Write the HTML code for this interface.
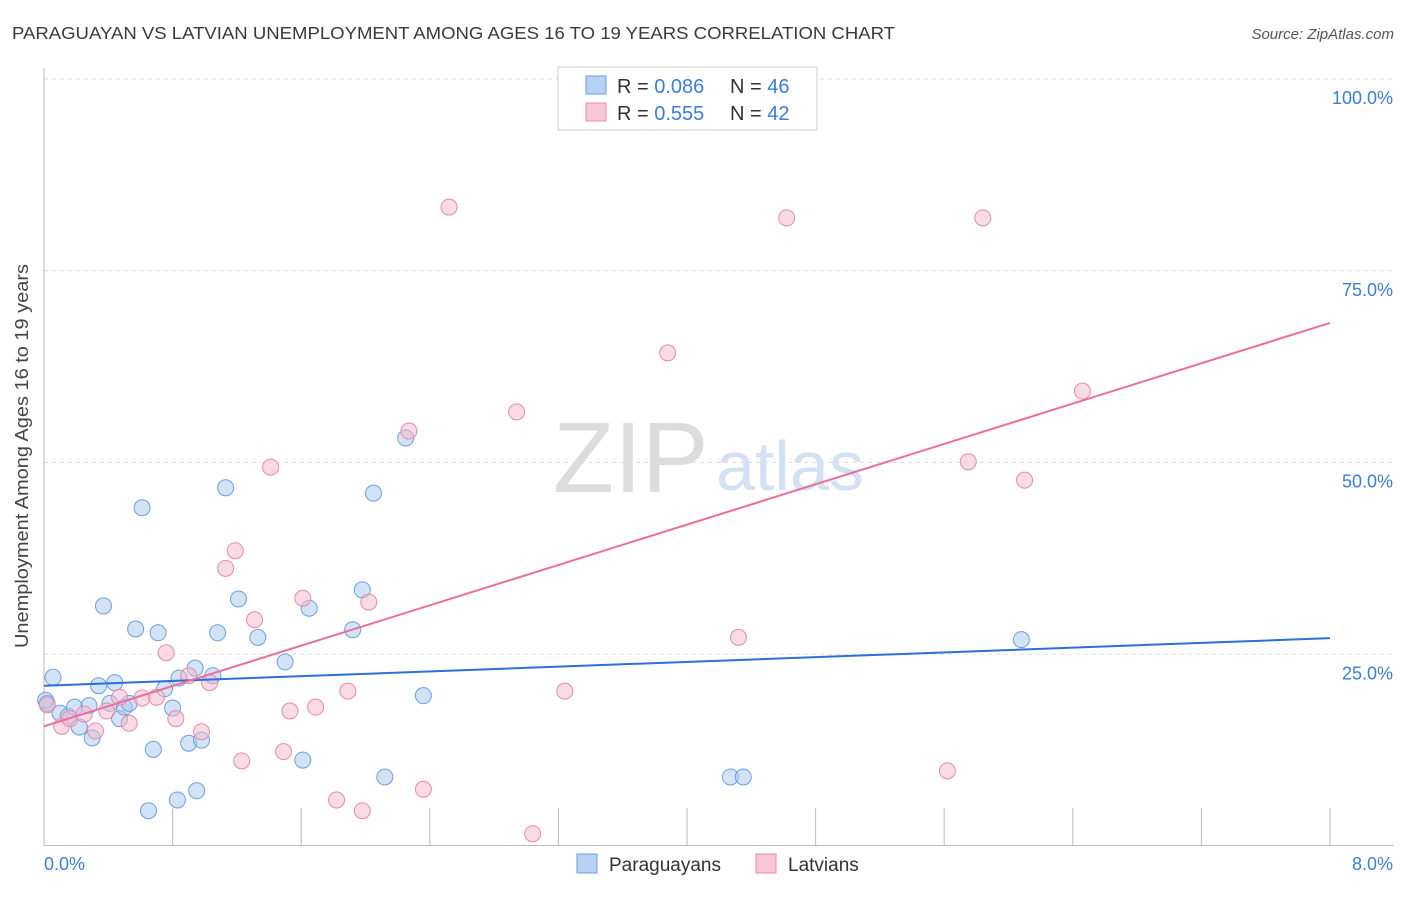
<!DOCTYPE html>
<html><head><meta charset="utf-8"><style>
body{margin:0;background:#fff;font-family:"Liberation Sans",sans-serif;}
svg text{font-family:"Liberation Sans",sans-serif;}
</style></head><body>
<svg width="1406" height="892" viewBox="0 0 1406 892">
<text x="12" y="39" font-size="17.5" fill="#3a3a3a" textLength="883" lengthAdjust="spacingAndGlyphs">PARAGUAYAN VS LATVIAN UNEMPLOYMENT AMONG AGES 16 TO 19 YEARS CORRELATION CHART</text>
<text x="1394" y="39" font-size="15" font-style="italic" fill="#555" text-anchor="end">Source: ZipAtlas.com</text>
<g>
<text x="553" y="492" font-size="100" font-family="Liberation Serif,serif" fill="#dcdcdc">ZIP</text>
<text x="716" y="490" font-size="70" fill="#d3e1f3">atlas</text>
</g>
<g id="grid"></g>
<g id="axes"></g>
<g id="marks"></g>
<text x="28" y="456" font-size="18" fill="#444" text-anchor="middle" textLength="384" lengthAdjust="spacingAndGlyphs" transform="rotate(-90 28 456)">Unemployment Among Ages 16 to 19 years</text>
<g>
<rect x="558" y="67" width="259" height="63" fill="#fff" stroke="#ccc"/>
<rect x="586" y="76" width="20" height="18" fill="#b7d1f3" stroke="#6c9fe0"/>
<rect x="586" y="103" width="20" height="18" fill="#f8c6d5" stroke="#e88aa8"/>
<text x="617" y="93" font-size="20" fill="#333">R = <tspan fill="#3b7dd8">0.086</tspan></text>
<text x="730" y="93" font-size="20" fill="#333">N = <tspan fill="#3b7dd8">46</tspan></text>
<text x="617" y="120" font-size="20" fill="#333">R = <tspan fill="#3b7dd8">0.555</tspan></text>
<text x="730" y="120" font-size="20" fill="#333">N = <tspan fill="#3b7dd8">42</tspan></text>
</g>
<g>
<rect x="577" y="854" width="20" height="19" fill="#b7d1f3" stroke="#6c9fe0"/>
<text x="609" y="871" font-size="19" fill="#333">Paraguayans</text>
<rect x="756" y="854" width="20" height="19" fill="#f8c6d5" stroke="#e88aa8"/>
<text x="788" y="871" font-size="19" fill="#333">Latvians</text>
</g>
</svg>
<script>
const xTicks=[0,0.8,1.6,2.4,3.2,4.0,4.8,5.6,6.4,7.2,8.0];
const yTicks=[25,50,75,100];
const yTickLabels=["25.0%","50.0%","75.0%","100.0%"];
const xEndLabels=["0.0%","8.0%"];
const parX=[0.056,0.019,0.10,0.15,0.19,0.22,0.28,0.30,0.34,0.37,0.41,0.44,0.47,0.50,0.53,0.57,0.61,0.68,0.71,0.75,0.80,0.83,0.84,0.90,0.94,0.95,0.98,1.05,1.08,1.13,1.21,1.33,1.50,1.61,1.65,1.92,1.98,2.05,2.12,2.25,2.36,4.27,4.35,6.08,0.65,0.01];
const parY=[22.0,18.6,17.3,16.9,18.1,15.5,18.3,14.1,20.9,31.3,18.6,21.3,16.6,18.1,18.6,28.3,44.1,12.6,27.8,20.5,18.0,6.0,21.9,13.4,23.2,7.2,13.8,22.2,27.8,46.7,32.2,27.2,24.0,11.2,31.0,28.2,33.4,46.0,9.0,53.2,19.6,9.0,9.0,26.9,4.6,19.0];
const latX=[0.02,0.11,0.16,0.25,0.32,0.39,0.47,0.53,0.61,0.70,0.76,0.82,0.90,0.98,1.03,1.13,1.19,1.23,1.31,1.41,1.49,1.53,1.61,1.69,1.82,1.89,1.98,2.02,2.27,2.36,2.52,2.94,3.04,3.24,3.88,4.32,4.62,5.62,5.75,5.84,6.10,6.46];
const latY=[18.4,15.6,16.6,17.2,15.0,17.6,19.4,16.0,19.3,19.4,25.2,16.6,22.2,14.9,21.3,36.2,38.5,11.1,29.5,49.4,12.3,17.6,32.3,18.1,6.0,20.2,4.6,31.8,54.1,7.4,83.3,56.6,1.6,20.2,64.3,27.2,81.9,9.8,50.1,81.9,47.7,59.3];
const parTrend=[20.9,27.1];
const latTrend=[15.6,68.2];
const NS="http://www.w3.org/2000/svg";
const X=v=>44+v/8*1286, Y=v=>846-v/100*767;
function mk(p,t,a){const e=document.createElementNS(NS,t);for(const k in a)e.setAttribute(k,a[k]);p.appendChild(e);return e;}
const grid=document.getElementById('grid'),axes=document.getElementById('axes'),marks=document.getElementById('marks');
yTicks.forEach((t,i)=>{
 const l=mk(grid,'line',{x1:44,x2:1394,y1:Y(t),y2:Y(t),stroke:'#ddd','stroke-dasharray':'4,4'});
 
 
 const tx=mk(axes,'text',{x:1393,y:Y(t)+25,'font-size':18,fill:'#3b7dd8','text-anchor':'end'});
 tx.textContent=yTickLabels[i];
 
 
});
const la=mk(axes,'line',{x1:44,x2:44,y1:68,y2:846,stroke:'#bbb'});


const ba=mk(axes,'line',{x1:44,x2:1394,y1:845.5,y2:845.5,stroke:'#bbb'});


xTicks.forEach(t=>{
 const l=mk(axes,'line',{x1:X(t),x2:X(t),y1:808,y2:846,stroke:'#bbb'});
 
 
});
[[0,'start',44],[8,'end',1393]].forEach((d,i)=>{
 const tx=mk(axes,'text',{x:d[2],y:870,'font-size':18,fill:'#3b7dd8','text-anchor':d[1]});
 tx.textContent=xEndLabels[i];
 
 
});
function pts(xs,ys,fill,stroke,name){xs.forEach((x,i)=>{
 const c=mk(marks,'circle',{cx:X(x),cy:Y(ys[i]),r:8,fill:fill,'fill-opacity':0.5,stroke:stroke,'stroke-width':1});
 
 
});}
pts(parX,parY,'#a8c8f0','#6c9fe0','paraguayan-point');
pts(latX,latY,'#f5b8cb','#e88aa8','latvian-point');
const t1=mk(marks,'line',{x1:X(0),x2:X(8),y1:Y(parTrend[0]),y2:Y(parTrend[1]),stroke:'#2c6fd6','stroke-width':2});


const t2=mk(marks,'line',{x1:X(0),x2:X(8),y1:Y(latTrend[0]),y2:Y(latTrend[1]),stroke:'#e8709a','stroke-width':2});


</script>
</body></html>
